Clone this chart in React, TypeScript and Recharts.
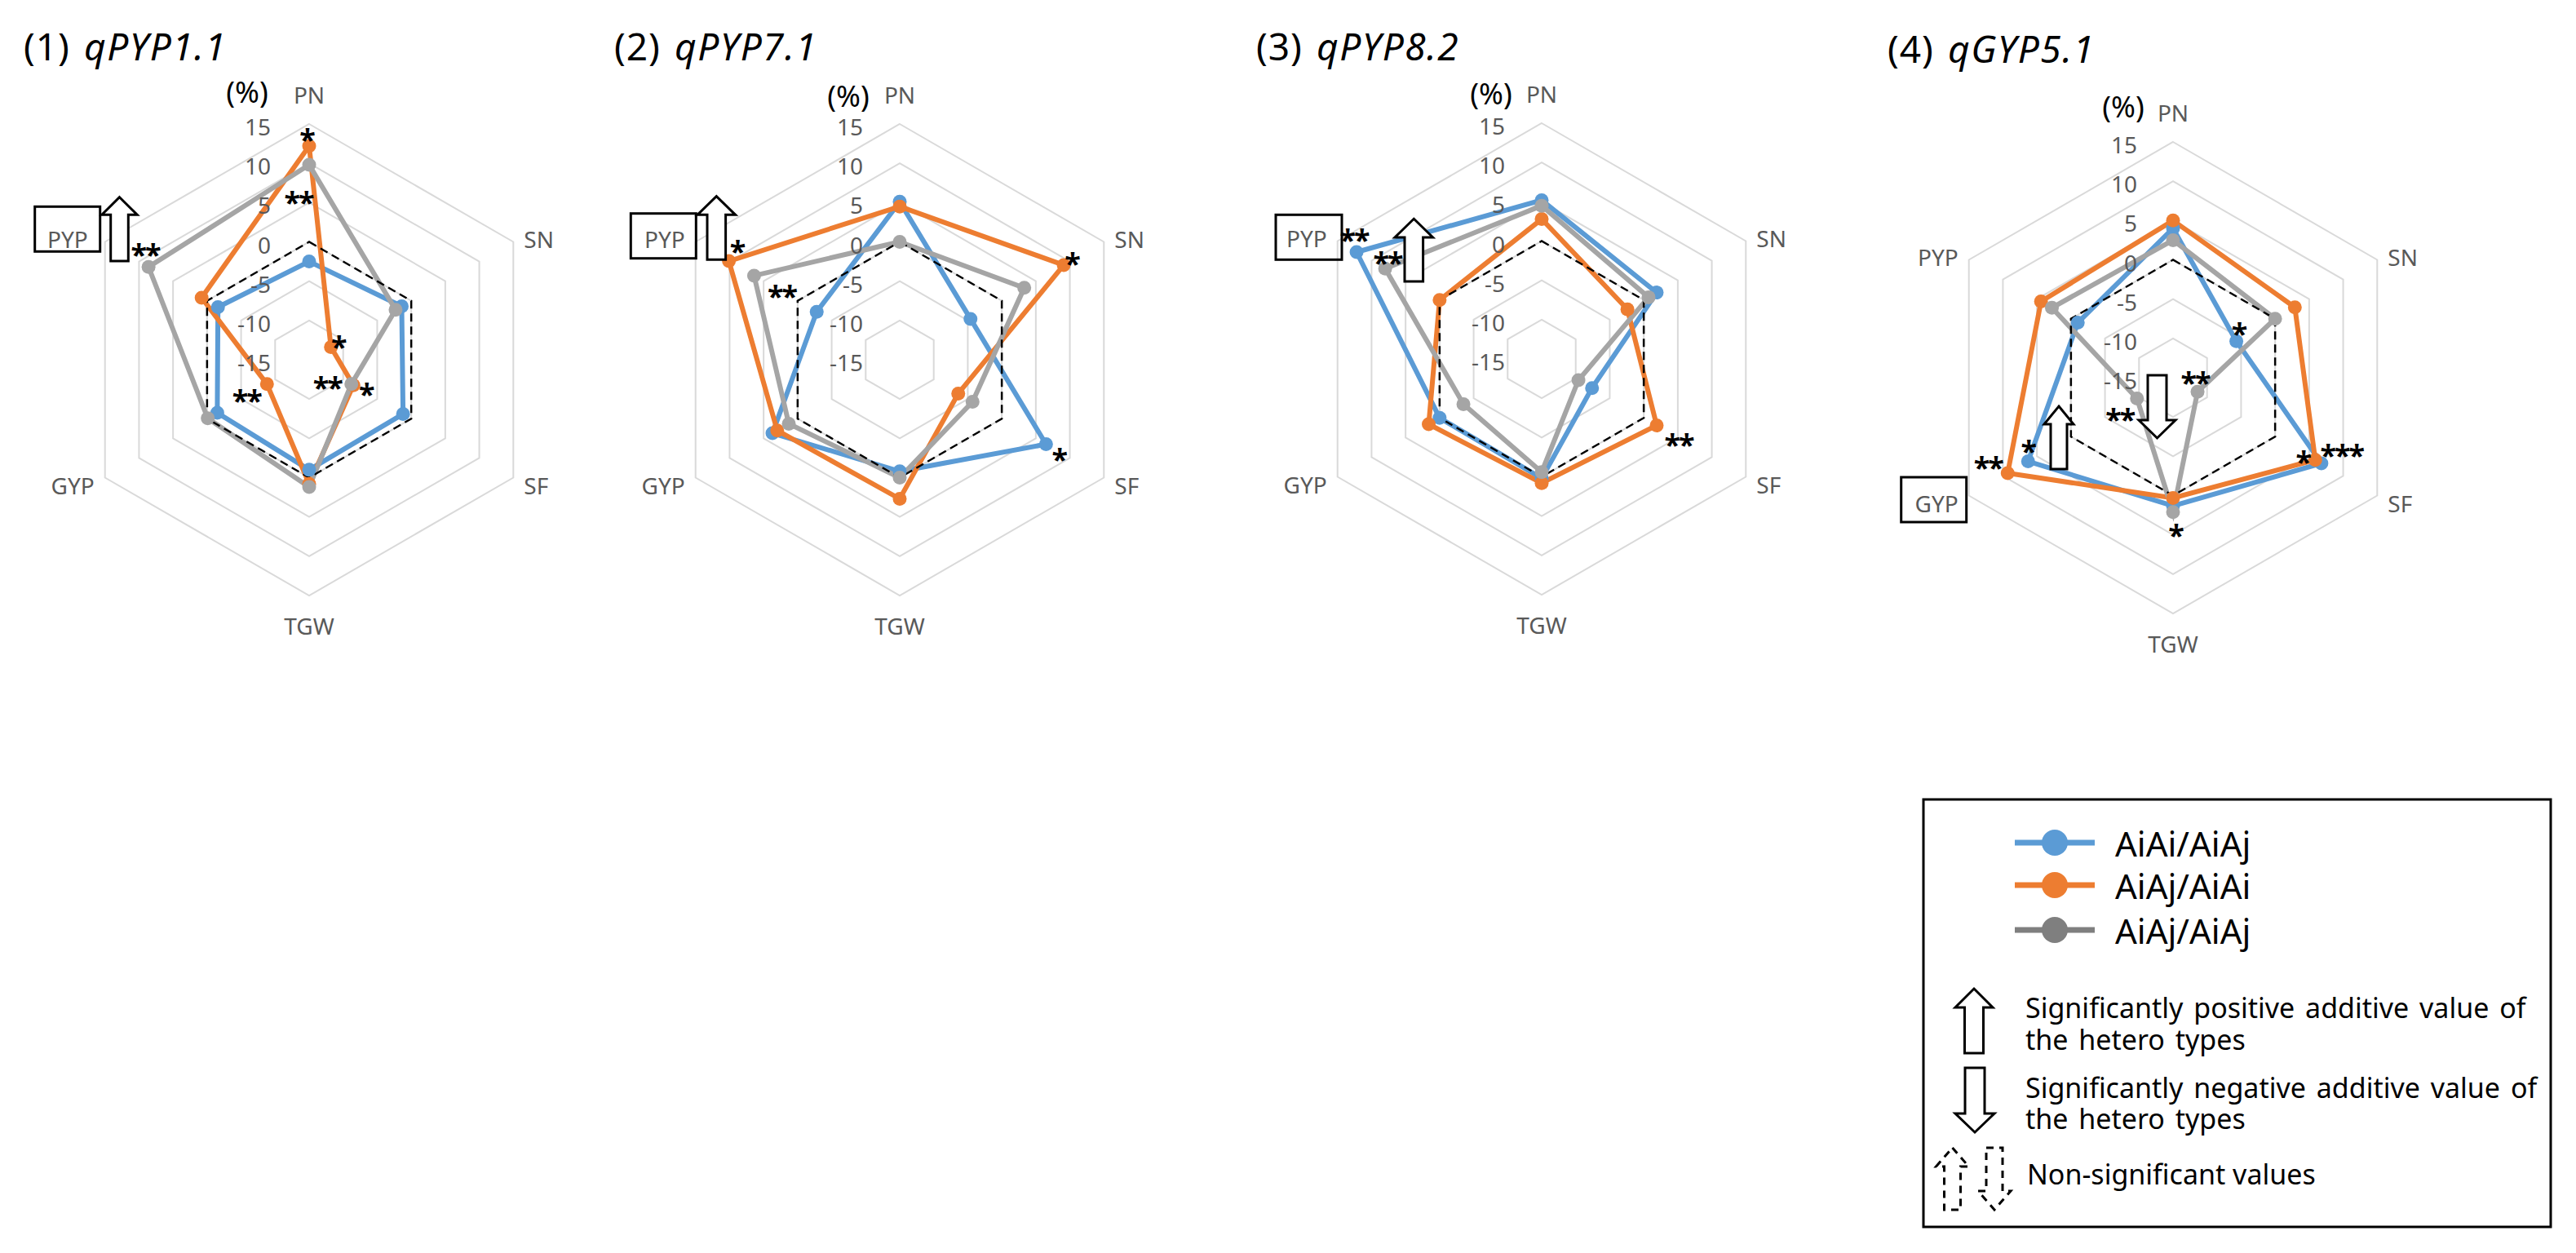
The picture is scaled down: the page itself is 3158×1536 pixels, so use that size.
import React from 'react';
import { RadarChart, Radar, PolarGrid, PolarAngleAxis, PolarRadiusAxis } from 'recharts';

// Traits on the radar axes (clockwise from the top)
const traitsPYP = ['PN', 'SN', 'SF', 'TGW', 'GYP', 'PYP'];
const traitsGYP = ['PN', 'SN', 'SF', 'TGW', 'GYP', 'PYP'];

// Radius axis (%) range and labels
const radiusDomain: [number, number] = [-15, 15];
const radiusTicks = [-15, -10, -5, 0, 5, 10, 15];

// Reference (0 %) outline
const zeroLine = [0, 0, 0, 0, 0, 0];

// (1) qPYP1.1
const q11AiAiAiAj = [-2.5, -1.4, -1.2, -1.0, -1.5, -1.6];
const q11AiAjAiAi = [12.2, -11.8, -8.5, 0.8, -8.8, 0.8];
const q11AiAjAiAj = [9.8, -2.3, -8.8, 1.2, -0.1, 8.6];

// (2) qPYP7.1
const q71AiAiAiAj = [5.1, -4.6, 6.5, -0.8, 3.7, -2.8];
const q71AiAjAiAi = [4.5, 9.1, -6.4, 2.7, 3.0, 10.1];
const q71AiAjAiAj = [0.0, 3.3, -4.3, 0.0, 1.3, 6.4];

// (3) qPYP8.2
const q82AiAiAiAj = [5.2, 1.9, -7.6, 0.2, 0.0, 12.2];
const q82AiAjAiAi = [2.8, -2.4, 1.9, 0.8, 1.6, 0.0];
const q82AiAjAiAj = [4.5, 0.7, -9.6, -0.6, -3.5, 8.0];

// (4) qGYP5.1
const q51AiAiAiAj = [4.0, -5.7, 6.8, 1.3, 6.3, -1.0];
const q51AiAjAiAi = [5.0, 2.9, 5.9, 0.3, 9.3, 4.4];
const q51AiAjAiAj = [2.5, 0.0, -11.4, 2.1, -9.7, 2.8];

const seriesNames = ['AiAi/AiAj', 'AiAj/AiAi', 'AiAj/AiAj'];
const lineColors = ['#5B9BD5', '#ED7D31', '#A5A5A5'];
const legendColors = ['#5B9BD5', '#ED7D31', '#7F7F7F'];

const FONT = '"Noto Sans", "Open Sans", sans-serif';
const W = 760;
const H = 820;
const R = 289;

type Star = { s: 'a' | 'b' | 'c'; i: number; t: string; dx: number; dy: number };

type Panel = {
  num: string;
  name: string;
  cx: number;
  cy: number;
  traits: string[];
  a: number[];
  b: number[];
  c: number[];
  stars: Star[];
  tickGap: number;
  labelShift: Record<string, number>;
  titleY: number;
  pct: [number, number];
};

const panels: Panel[] = [
  {
    num: '(1)', name: 'qPYP1.1', cx: 379, cy: 441, traits: traitsPYP,
    a: q11AiAiAiAj, b: q11AiAjAiAi, c: q11AiAjAiAj,
    stars: [
      { s: 'b', i: 0, t: '*', dx: -3, dy: -16 },
      { s: 'c', i: 0, t: '**', dx: -13, dy: 38 },
      { s: 'c', i: 5, t: '**', dx: -4, dy: -23 },
      { s: 'b', i: 1, t: '*', dx: 9, dy: -9 },
      { s: 'b', i: 2, t: '**', dx: -32, dy: -5 },
      { s: 'c', i: 2, t: '*', dx: 18, dy: 4 },
      { s: 'b', i: 4, t: '**', dx: -25, dy: 12 },
    ],
    tickGap: 47, labelShift: { PYP: -8 }, titleY: 74, pct: [303, 112],
  },
  {
    num: '(2)', name: 'qPYP7.1', cx: 1103, cy: 441, traits: traitsPYP,
    a: q71AiAiAiAj, b: q71AiAjAiAi, c: q71AiAjAiAj,
    stars: [
      { s: 'b', i: 5, t: '*', dx: 10, dy: -20 },
      { s: 'c', i: 5, t: '**', dx: 34, dy: 17 },
      { s: 'b', i: 1, t: '*', dx: 10, dy: -10 },
      { s: 'a', i: 2, t: '*', dx: 16, dy: 10 },
    ],
    tickGap: 45, labelShift: {}, titleY: 74, pct: [1040, 117],
  },
  {
    num: '(3)', name: 'qPYP8.2', cx: 1890, cy: 440, traits: traitsPYP,
    a: q82AiAiAiAj, b: q82AiAjAiAi, c: q82AiAjAiAj,
    stars: [
      { s: 'a', i: 5, t: '**', dx: -3, dy: -23 },
      { s: 'c', i: 5, t: '**', dx: 3, dy: -15 },
      { s: 'b', i: 2, t: '**', dx: 27, dy: 16 },
    ],
    tickGap: 45, labelShift: {}, titleY: 74, pct: [1828, 114],
  },
  {
    num: '(4)', name: 'qGYP5.1', cx: 2664, cy: 463, traits: traitsGYP,
    a: q51AiAiAiAj, b: q51AiAjAiAi, c: q51AiAjAiAj,
    stars: [
      { s: 'a', i: 1, t: '*', dx: 3, dy: -17 },
      { s: 'c', i: 2, t: '**', dx: -3, dy: -19 },
      { s: 'c', i: 4, t: '**', dx: -21, dy: 17 },
      { s: 'a', i: 4, t: '*', dx: 0, dy: -21 },
      { s: 'b', i: 4, t: '**', dx: -24, dy: -15 },
      { s: 'b', i: 2, t: '*', dx: -15, dy: -6 },
      { s: 'a', i: 2, t: '***', dx: 25, dy: -18 },
      { s: 'c', i: 3, t: '*', dx: 3, dy: 20 },
    ],
    tickGap: 44, labelShift: {}, titleY: 77, pct: [2603, 130],
  },
];

function makeDot(color: string, key: 'a' | 'b' | 'c', stars: Star[]) {
  return (p: any) => {
    const mine = stars.filter((s) => s.s === key && s.i === p.index);
    return (
      <g key={`dot-${key}-${p.index}`}>
        <circle cx={p.cx} cy={p.cy} r={8.5} fill={color} stroke="none" />
        {mine.map((s, j) => (
          <text
            key={j}
            x={p.cx + s.dx}
            y={p.cy + s.dy + 21}
            textAnchor="middle"
            fontSize={36}
            fontWeight={700}
            letterSpacing={-2}
            fill="#000"
            fontFamily={FONT}
          >
            {s.t}
          </text>
        ))}
      </g>
    );
  };
}

function makeAngleTick(panel: Panel) {
  return (p: any) => {
    const lx = p.x - W / 2;
    const ly = p.y - panel.cy;
    const d = Math.hypot(lx, ly) || 1;
    const ux = lx / d;
    const uy = ly / d;
    const vx = W / 2 + ux * R;
    const vy = panel.cy + uy * R;
    let x = vx;
    let y = vy;
    let anchor: 'start' | 'middle' | 'end' = 'middle';
    if (Math.abs(ux) < 0.2) {
      y = uy < 0 ? vy - 36 : vy + 37;
    } else {
      anchor = ux > 0 ? 'start' : 'end';
      x = vx + (ux > 0 ? 13 : -13);
      y = vy + (uy < 0 ? -4 : 9);
    }
    const label = String(p.payload.value);
    x += panel.labelShift[label] ?? 0;
    return (
      <text x={x} y={y} textAnchor={anchor} dominantBaseline="central" fontSize={28} fill="#595959" fontFamily={FONT}>
        {label}
      </text>
    );
  };
}

function makeRadiusTick(panel: Panel) {
  return (p: any) => (
    <text
      x={p.x - panel.tickGap}
      y={p.y + 3}
      textAnchor="end"
      dominantBaseline="central"
      fontSize={28}
      fill="#595959"
      fontFamily={FONT}
    >
      {p.payload.value}
    </text>
  );
}

function PanelChart({ panel }: { panel: Panel }) {
  const rows = panel.traits.map((t, i) => ({
    trait: t,
    a: panel.a[i],
    b: panel.b[i],
    c: panel.c[i],
    zero: zeroLine[i],
  }));
  return (
    <div style={{ position: 'absolute', left: panel.cx - W / 2, top: 0, width: W, height: H }}>
      <RadarChart
        width={W}
        height={H}
        cx={W / 2}
        cy={panel.cy}
        outerRadius={R}
        data={rows}
        margin={{ top: 0, right: 0, bottom: 0, left: 0 }}
      >
        <PolarGrid gridType="polygon" radialLines={false} stroke="#D9D9D9" strokeWidth={2} />
        <PolarAngleAxis dataKey="trait" axisLine={false} tickLine={false} tick={makeAngleTick(panel)} />
        <PolarRadiusAxis
          angle={90}
          domain={radiusDomain}
          ticks={radiusTicks as any}
          tickCount={7}
          axisLine={false}
          tick={makeRadiusTick(panel)}
        />
        <Radar
          name={seriesNames[0]}
          dataKey="a"
          stroke={lineColors[0]}
          strokeWidth={6}
          fill="none"
          fillOpacity={0}
          dot={makeDot(lineColors[0], 'a', panel.stars)}
          isAnimationActive={false}
        />
        <Radar
          name={seriesNames[1]}
          dataKey="b"
          stroke={lineColors[1]}
          strokeWidth={6}
          fill="none"
          fillOpacity={0}
          dot={makeDot(lineColors[1], 'b', panel.stars)}
          isAnimationActive={false}
        />
        <Radar
          name={seriesNames[2]}
          dataKey="c"
          stroke={lineColors[2]}
          strokeWidth={6}
          fill="none"
          fillOpacity={0}
          dot={makeDot(lineColors[2], 'c', panel.stars)}
          isAnimationActive={false}
        />
        <Radar
          name="0"
          dataKey="zero"
          stroke="#000"
          strokeWidth={2.5}
          strokeDasharray="10 6"
          fill="none"
          fillOpacity={0}
          dot={false}
          isAnimationActive={false}
        />
      </RadarChart>
    </div>
  );
}

// Block arrow outlines (tip, head half-width, head base, shaft half-width, tail)
function upArrow(x: number, tip: number, hw: number, base: number, sw: number, tail: number) {
  return `M${x},${tip} L${x + hw},${base} L${x + sw},${base} L${x + sw},${tail} L${x - sw},${tail} L${x - sw},${base} L${x - hw},${base} Z`;
}
function downArrow(x: number, top: number, sw: number, base: number, hw: number, tip: number) {
  return `M${x - sw},${top} L${x + sw},${top} L${x + sw},${base} L${x + hw},${base} L${x},${tip} L${x - hw},${base} L${x - sw},${base} Z`;
}

function Overlay() {
  const arrowStyle = { fill: '#fff', stroke: '#000', strokeWidth: 3, strokeLinejoin: 'miter' as const };
  const boxStyle = { fill: 'none', stroke: '#000', strokeWidth: 3 };
  const legendY = [1033, 1085, 1140];
  return (
    <svg
      width={3158}
      height={1536}
      style={{ position: 'absolute', left: 0, top: 0, pointerEvents: 'none' }}
      fontFamily={FONT}
    >
      {panels.map((p) => (
        <g key={p.num}>
          <text x={p.cx - 350} y={p.titleY} fontSize={46} letterSpacing={1} fill="#000">
            {p.num}
          </text>
          <text x={p.cx - 276} y={p.titleY} fontSize={46} fontStyle="italic" letterSpacing={1.5} fill="#000">
            {p.name}
          </text>
          <text x={p.pct[0]} y={p.pct[1]} fontSize={36} textAnchor="middle" dominantBaseline="central" fill="#000">
            (%)
          </text>
        </g>
      ))}

      {/* highlighted trait boxes */}
      <rect x={42.7} y={253.3} width={80} height={55} {...boxStyle} />
      <rect x={773.3} y={261.7} width={80} height={55} {...boxStyle} />
      <rect x={1564} y={263.3} width={81} height={55} {...boxStyle} />
      <rect x={2330.7} y={585} width={80} height={55} {...boxStyle} />

      {/* additive effect arrows */}
      <path d={upArrow(146.5, 241.7, 21.7, 263.3, 10.8, 320)} {...arrowStyle} />
      <path d={upArrow(878.3, 240.7, 23.3, 263.3, 11.3, 318.3)} {...arrowStyle} />
      <path d={upArrow(1733.3, 268.3, 23.3, 291, 11.3, 345)} {...arrowStyle} />
      <path d={upArrow(2524, 498, 18, 520, 10, 575)} {...arrowStyle} />
      <path d={downArrow(2644.5, 460, 11.5, 515, 22.5, 537)} {...arrowStyle} />

      {/* legend */}
      <rect x={2358} y={980} width={769} height={524} fill="#fff" stroke="#000" strokeWidth={3} />
      {seriesNames.map((n, i) => (
        <g key={n}>
          <line x1={2470} x2={2568} y1={legendY[i]} y2={legendY[i]} stroke={legendColors[i]} strokeWidth={7} />
          <circle cx={2519} cy={legendY[i]} r={16} fill={legendColors[i]} />
          <text x={2593} y={legendY[i]} fontSize={42} dominantBaseline="central" fill="#000">
            {n}
          </text>
        </g>
      ))}
      <path d={upArrow(2420, 1212, 23, 1235, 11.5, 1291)} {...arrowStyle} />
      <path d={downArrow(2421, 1309, 12, 1365, 24, 1388)} {...arrowStyle} />
      <path
        d={upArrow(2393.5, 1407, 20, 1430, 10, 1483)}
        fill="#fff"
        stroke="#000"
        strokeWidth={3}
        strokeDasharray="9 7"
      />
      <path
        d={downArrow(2445, 1407, 10, 1460, 20, 1483)}
        fill="#fff"
        stroke="#000"
        strokeWidth={3}
        strokeDasharray="9 7"
      />
      <text x={2483} y={1248} fontSize={34} wordSpacing={4} fill="#000">
        Significantly positive additive value of
      </text>
      <text x={2483} y={1287} fontSize={34} wordSpacing={4} fill="#000">
        the hetero types
      </text>
      <text x={2483} y={1346} fontSize={34} wordSpacing={4} fill="#000">
        Significantly negative additive value of
      </text>
      <text x={2483} y={1384} fontSize={34} wordSpacing={4} fill="#000">
        the hetero types
      </text>
      <text x={2485} y={1452} fontSize={34} fill="#000">
        Non-significant values
      </text>
    </svg>
  );
}

export default function App() {
  return (
    <div
      style={{
        position: 'absolute',
        left: 0,
        top: 0,
        width: 3158,
        height: 1536,
        background: '#fff',
        fontFamily: FONT,
        overflow: 'hidden',
      }}
    >
      {panels.map((p) => (
        <PanelChart key={p.num} panel={p} />
      ))}
      <Overlay />
    </div>
  );
}
